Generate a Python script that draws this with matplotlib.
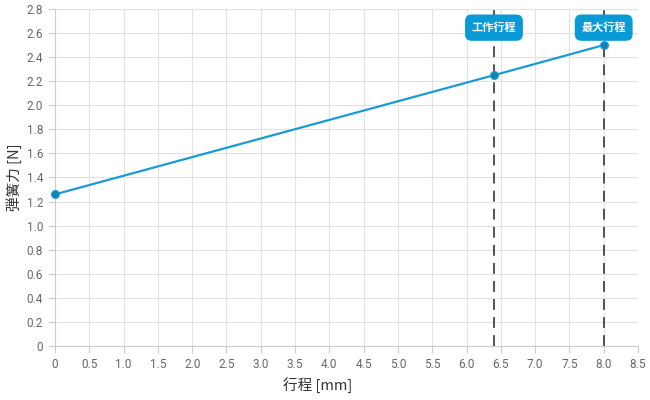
import matplotlib
matplotlib.use("Agg")
import matplotlib.pyplot as plt
from matplotlib.ticker import MultipleLocator, FuncFormatter

plt.rcParams['font.family'] = ['Roboto', 'Noto Sans CJK JP', 'DejaVu Sans']

stroke = [0, 6.4, 8.0]
force = [1.26, 2.25, 2.5]
marker_x = [6.4, 8.0]
marker_labels = ["工作行程", "最大行程"]

fig = plt.figure(figsize=(6.5, 4.0), dpi=100)
ax = fig.add_axes([55/650, 54/400, (638-55)/650, (346-9)/400])
ax.set_xlim(0, 8.5)
ax.set_ylim(0, 2.8)
ax.xaxis.set_major_locator(MultipleLocator(0.5))
ax.yaxis.set_major_locator(MultipleLocator(0.2))
fmt = FuncFormatter(lambda v, p: "0" if abs(v) < 1e-9 else f"{v:.1f}")
ax.xaxis.set_major_formatter(fmt)
ax.yaxis.set_major_formatter(fmt)
ax.grid(True, color="#e2e2e2", linewidth=0.8)
ax.set_axisbelow(True)
for s in ["top", "right"]:
    ax.spines[s].set_visible(False)
for s in ["left", "bottom"]:
    ax.spines[s].set_color("#cccccc")
ax.tick_params(colors="#cccccc", labelcolor="#666666", labelsize=8.5, length=5, width=0.8)

for xv in marker_x:
    ax.axvline(xv, color="#444444", linestyle=(0, (6, 4)), linewidth=1.3, zorder=2)

ax.plot(stroke, force, color="#1a9ad6", linewidth=1.6, zorder=3,
        marker="o", markersize=5.5, markerfacecolor="#1a7fb0", markeredgecolor="#1a9ad6",
        markeredgewidth=1, clip_on=False)

for xv, lab in zip(marker_x, marker_labels):
    ax.text(xv, 2.645, lab, ha="center", va="center", color="white", fontsize=8,
            fontweight="bold", family=['Noto Sans CJK JP', 'DejaVu Sans'], zorder=5,
            bbox=dict(boxstyle="round,pad=0.6,rounding_size=0.6", facecolor="#0a9ad6",
                      edgecolor="none"))

ax.set_xlabel("行程 [mm]", fontsize=10.5, color="#333333",
              family=['Noto Sans CJK JP', 'DejaVu Sans'])
ax.set_ylabel("弾簧力 [N]", fontsize=10.5, color="#333333",
              family=['Noto Sans CJK JP', 'DejaVu Sans'])
ax.xaxis.set_label_coords((318-55)/(638-55), -(386-346)/(346-9))
ax.yaxis.set_label_coords(-(55-14)/(638-55), (346-177)/(346-9))
ax.xaxis.label.set_va("center")
ax.yaxis.label.set_va("center")

fig.savefig("out.png", dpi=100)
